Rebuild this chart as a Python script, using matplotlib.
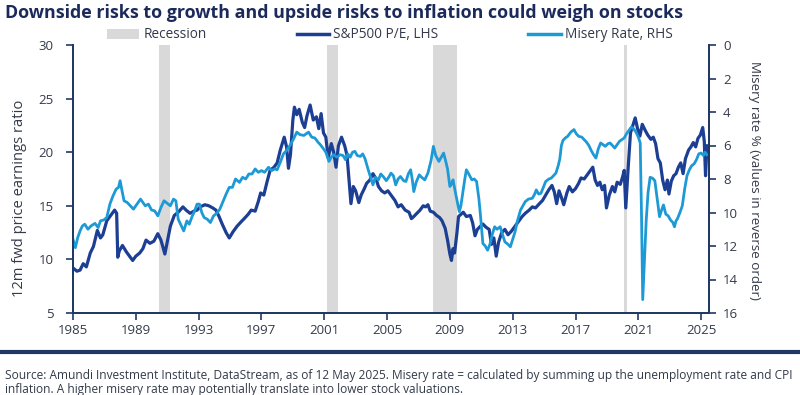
import matplotlib
matplotlib.use("Agg")
import matplotlib.pyplot as plt
from matplotlib.patches import Patch
from matplotlib.lines import Line2D

# readings: (decimal year, value)
pe_points = [
    (1985.0, 9.2), (1985.25, 8.9), (1985.45, 9.0), (1985.65, 9.6), (1985.85, 9.3),
    (1986.1, 10.6), (1986.3, 11.2), (1986.55, 12.7), (1986.75, 12.0), (1986.9, 12.3),
    (1987.15, 13.6), (1987.4, 14.1), (1987.65, 14.6), (1987.78, 14.3), (1987.85, 10.2),
    (1987.95, 10.8), (1988.15, 11.3), (1988.4, 10.7), (1988.6, 10.3), (1988.8, 9.9),
    (1989.0, 10.3), (1989.25, 10.6), (1989.45, 11.0), (1989.65, 11.8), (1989.9, 11.5),
    (1990.15, 11.7), (1990.4, 12.4), (1990.6, 11.8), (1990.85, 10.5), (1991.0, 11.6),
    (1991.2, 13.1), (1991.45, 14.1), (1991.7, 14.4), (1992.0, 14.9), (1992.2, 14.6),
    (1992.45, 14.3), (1992.7, 14.5), (1992.9, 14.6), (1993.1, 14.9), (1993.4, 15.1),
    (1993.65, 15.0), (1993.9, 14.8), (1994.1, 14.6), (1994.3, 14.0), (1994.5, 13.3),
    (1994.75, 12.5), (1994.95, 12.0), (1995.2, 12.6), (1995.45, 13.1), (1995.7, 13.5),
    (1995.9, 13.8), (1996.15, 14.2), (1996.35, 14.6), (1996.6, 14.5), (1996.8, 15.4),
    (1996.95, 16.2), (1997.15, 16.0), (1997.35, 17.2), (1997.55, 18.3), (1997.8, 18.6),
    (1998.0, 19.0), (1998.2, 20.2), (1998.45, 21.4), (1998.6, 20.5), (1998.72, 18.5),
    (1998.85, 19.8), (1999.0, 23.0), (1999.1, 24.2), (1999.25, 23.5), (1999.4, 24.0),
    (1999.6, 22.8), (1999.75, 22.3), (1999.9, 23.4), (2000.1, 24.4), (2000.3, 23.0),
    (2000.5, 23.3), (2000.65, 22.2), (2000.8, 23.6), (2000.95, 21.8), (2001.1, 21.4),
    (2001.25, 19.5), (2001.45, 20.8), (2001.6, 20.0), (2001.75, 18.6), (2001.9, 20.6),
    (2002.1, 21.4), (2002.3, 20.6), (2002.45, 19.7), (2002.6, 17.0), (2002.7, 15.2),
    (2002.85, 16.8), (2003.0, 16.4), (2003.2, 15.3), (2003.35, 16.0), (2003.55, 16.6),
    (2003.7, 17.1), (2003.9, 17.4), (2004.1, 18.0), (2004.3, 17.5), (2004.45, 16.8),
    (2004.65, 16.4), (2004.85, 16.2), (2005.05, 16.4), (2005.3, 15.9), (2005.5, 15.5),
    (2005.7, 14.9), (2005.9, 15.1), (2006.15, 14.6), (2006.4, 14.4), (2006.55, 13.8),
    (2006.7, 14.0), (2006.9, 14.3), (2007.1, 14.6), (2007.3, 15.0), (2007.45, 14.9),
    (2007.6, 15.1), (2007.75, 14.5), (2007.95, 14.4), (2008.15, 14.1), (2008.35, 13.9),
    (2008.5, 13.6), (2008.7, 12.9), (2008.85, 11.8), (2009.0, 10.5), (2009.1, 9.9),
    (2009.2, 11.0), (2009.3, 10.6), (2009.45, 12.5), (2009.55, 14.0), (2009.7, 14.2),
    (2009.85, 14.4), (2010.05, 14.0), (2010.3, 14.1), (2010.45, 13.4), (2010.6, 12.2),
    (2010.75, 12.8), (2010.95, 13.1), (2011.1, 13.3), (2011.3, 13.0), (2011.5, 12.8),
    (2011.65, 11.4), (2011.8, 12.0), (2011.95, 10.3), (2012.1, 11.6), (2012.3, 12.5),
    (2012.5, 12.8), (2012.7, 12.3), (2012.9, 12.6), (2013.1, 13.0), (2013.35, 13.5),
    (2013.6, 14.0), (2013.8, 14.3), (2014.05, 14.6), (2014.25, 14.9), (2014.45, 14.8),
    (2014.7, 15.2), (2014.9, 15.5), (2015.1, 16.0), (2015.3, 16.5), (2015.5, 16.9),
    (2015.65, 16.3), (2015.8, 15.2), (2015.95, 16.4), (2016.1, 15.8), (2016.25, 15.1),
    (2016.45, 16.2), (2016.6, 16.8), (2016.8, 16.3), (2017.0, 16.6), (2017.2, 17.1),
    (2017.35, 17.6), (2017.55, 17.5), (2017.75, 17.9), (2017.95, 18.3), (2018.1, 18.6),
    (2018.25, 17.4), (2018.4, 16.9), (2018.55, 17.2), (2018.7, 16.5), (2018.85, 16.9),
    (2018.97, 14.8), (2019.15, 16.0), (2019.35, 16.8), (2019.5, 16.3), (2019.65, 17.2),
    (2019.85, 17.0), (2020.0, 17.7), (2020.1, 18.3), (2020.2, 14.8), (2020.35, 18.5),
    (2020.5, 21.8), (2020.65, 22.5), (2020.8, 23.2), (2020.95, 22.2), (2021.1, 21.5),
    (2021.25, 22.6), (2021.45, 22.0), (2021.6, 21.6), (2021.8, 21.2), (2021.95, 21.4),
    (2022.1, 20.8), (2022.25, 19.4), (2022.4, 19.0), (2022.55, 17.4), (2022.7, 16.5),
    (2022.85, 17.4), (2022.95, 16.1), (2023.1, 17.3), (2023.25, 17.8), (2023.4, 18.0),
    (2023.55, 18.6), (2023.7, 19.0), (2023.85, 18.0), (2024.0, 19.4), (2024.2, 20.2),
    (2024.35, 20.5), (2024.5, 20.9), (2024.65, 20.5), (2024.8, 21.3), (2024.95, 21.6),
    (2025.1, 22.3), (2025.2, 21.0), (2025.28, 17.8), (2025.37, 20.6),
]

misery_points = [
    (1985.0, 11.6), (1985.15, 12.1), (1985.3, 11.5), (1985.45, 11.1), (1985.6, 10.8),
    (1985.75, 10.7), (1985.95, 11.0), (1986.15, 10.8), (1986.4, 10.65), (1986.6, 10.9),
    (1986.75, 10.5), (1986.95, 10.45), (1987.15, 10.3), (1987.35, 9.5), (1987.55, 9.0),
    (1987.75, 8.6), (1987.9, 8.5), (1988.0, 8.1), (1988.1, 8.6), (1988.25, 9.3),
    (1988.45, 9.4), (1988.65, 9.6), (1988.85, 9.8), (1989.0, 9.6), (1989.3, 9.2),
    (1989.45, 9.4), (1989.6, 9.6), (1989.8, 9.5), (1990.0, 9.85), (1990.2, 9.9),
    (1990.4, 10.2), (1990.6, 9.7), (1990.8, 9.3), (1991.0, 9.45), (1991.2, 9.6),
    (1991.4, 9.2), (1991.55, 9.3), (1991.7, 10.4), (1991.9, 10.8), (1992.05, 11.1),
    (1992.25, 10.5), (1992.4, 10.7), (1992.6, 10.2), (1992.75, 9.9), (1992.9, 9.5),
    (1993.05, 9.5), (1993.2, 10.0), (1993.35, 10.3), (1993.55, 10.4), (1993.75, 10.6),
    (1993.95, 10.2), (1994.15, 10.05), (1994.35, 9.8), (1994.55, 9.35), (1994.75, 8.9),
    (1994.95, 8.5), (1995.15, 8.5), (1995.35, 8.0), (1995.6, 8.2), (1995.8, 7.9),
    (1996.0, 8.0), (1996.2, 7.7), (1996.4, 7.7), (1996.6, 7.4), (1996.8, 7.6),
    (1997.0, 7.5), (1997.2, 7.6), (1997.45, 7.3), (1997.65, 7.5), (1997.85, 7.4),
    (1998.0, 7.45), (1998.2, 7.0), (1998.4, 6.5), (1998.6, 6.3), (1998.85, 5.95),
    (1999.05, 5.6), (1999.25, 5.2), (1999.45, 5.35), (1999.7, 5.4), (1999.85, 5.3),
    (2000.0, 5.2), (2000.2, 5.5), (2000.4, 5.55), (2000.6, 5.8), (2000.75, 5.95),
    (2000.95, 6.2), (2001.1, 6.4), (2001.3, 6.95), (2001.45, 6.7), (2001.6, 6.55),
    (2001.8, 6.7), (2002.0, 6.55), (2002.2, 6.6), (2002.35, 6.85), (2002.5, 6.5),
    (2002.65, 6.7), (2002.8, 6.4), (2002.95, 6.35), (2003.1, 6.6), (2003.3, 6.65),
    (2003.45, 6.5), (2003.6, 6.8), (2003.8, 7.45), (2003.95, 7.9), (2004.1, 8.35),
    (2004.25, 7.9), (2004.45, 8.05), (2004.6, 7.7), (2004.75, 7.85), (2004.95, 8.1),
    (2005.1, 7.9), (2005.25, 7.65), (2005.4, 7.8), (2005.55, 8.35), (2005.7, 8.0),
    (2005.85, 7.85), (2006.05, 8.1), (2006.2, 8.15), (2006.35, 7.7), (2006.5, 7.45),
    (2006.6, 8.0), (2006.7, 8.75), (2006.85, 8.2), (2007.05, 7.75), (2007.2, 7.9),
    (2007.4, 8.05), (2007.6, 7.65), (2007.8, 6.9), (2007.95, 6.05), (2008.1, 6.6),
    (2008.3, 6.95), (2008.45, 6.7), (2008.6, 6.45), (2008.75, 7.0), (2008.85, 7.4),
    (2009.0, 8.45), (2009.1, 8.3), (2009.2, 8.05), (2009.35, 8.8), (2009.45, 9.25),
    (2009.6, 9.95), (2009.7, 9.6), (2009.85, 8.65), (2009.95, 8.0), (2010.05, 7.45),
    (2010.2, 7.7), (2010.4, 8.05), (2010.55, 8.0), (2010.7, 8.15), (2010.85, 9.2),
    (2010.95, 10.2), (2011.1, 11.85), (2011.25, 12.0), (2011.4, 12.25), (2011.55, 11.9),
    (2011.7, 11.3), (2011.85, 10.85), (2012.0, 11.0), (2012.2, 10.85), (2012.35, 11.3),
    (2012.5, 11.75), (2012.7, 11.9), (2012.85, 12.05), (2013.0, 11.6), (2013.15, 11.15),
    (2013.3, 10.5), (2013.5, 9.85), (2013.65, 9.6), (2013.8, 9.35), (2014.0, 9.2),
    (2014.25, 9.15), (2014.4, 8.9), (2014.5, 8.65), (2014.65, 8.9), (2014.8, 8.85),
    (2014.95, 8.5), (2015.1, 8.15), (2015.3, 8.0), (2015.45, 7.95), (2015.6, 7.8),
    (2015.75, 7.65), (2015.9, 7.2), (2016.0, 6.8), (2016.1, 6.0), (2016.2, 5.7),
    (2016.35, 5.55), (2016.5, 5.45), (2016.7, 5.2), (2016.9, 5.05), (2017.05, 5.3),
    (2017.2, 5.45), (2017.4, 5.5), (2017.55, 5.65), (2017.7, 5.8), (2017.85, 6.0),
    (2018.0, 6.3), (2018.15, 6.55), (2018.3, 6.75), (2018.45, 6.2), (2018.6, 5.85),
    (2018.75, 5.95), (2018.9, 6.05), (2019.05, 5.9), (2019.2, 5.85), (2019.35, 6.0),
    (2019.5, 6.15), (2019.65, 5.95), (2019.8, 5.75), (2019.95, 5.65), (2020.1, 5.55),
    (2020.25, 5.3), (2020.4, 5.1), (2020.55, 4.9), (2020.7, 5.0), (2020.85, 5.2),
    (2021.0, 5.5), (2021.12, 5.85), (2021.2, 10.0), (2021.28, 15.2), (2021.38, 13.0),
    (2021.5, 10.5), (2021.62, 8.8), (2021.75, 7.9), (2021.9, 7.95), (2022.05, 8.1),
    (2022.2, 9.2), (2022.35, 10.25), (2022.5, 9.8), (2022.6, 9.55), (2022.75, 10.1),
    (2022.9, 10.2), (2023.05, 10.45), (2023.2, 10.6), (2023.3, 10.85), (2023.4, 10.5),
    (2023.5, 10.35), (2023.65, 10.0), (2023.8, 9.6), (2023.95, 8.6), (2024.1, 7.8),
    (2024.25, 7.45), (2024.4, 7.2), (2024.55, 7.1), (2024.7, 6.85), (2024.85, 6.5),
    (2025.0, 6.45), (2025.15, 6.6), (2025.25, 6.4), (2025.37, 6.55),
]

recessions = [(1990.5, 1991.2), (2001.15, 2001.85), (2007.9, 2009.45), (2020.1, 2020.3)]
year_ticks = list(range(1985, 2026, 4))

navy = "#1c3f94"
sky = "#1d9ad6"
axis_col = "#1f3864"
text_col = "#333a4a"
grey = "#d9d9d9"

plt.rcParams['font.family'] = ['Open Sans', 'DejaVu Sans']

fig = plt.figure(figsize=(8, 3.95), dpi=100)
ax = fig.add_axes([73/800, 1-313/395, 636/800, 268/395])
ax2 = ax.twinx()

for start, end in recessions:
    ax.axvspan(start, end, color=grey, lw=0, zorder=0)

ax.plot([p[0] for p in pe_points], [p[1] for p in pe_points], color=navy, lw=2.3, zorder=2)
ax2.plot([p[0] for p in misery_points], [p[1] for p in misery_points], color=sky, lw=2.0)

ax.set_xlim(1985, 2025.5)
ax.set_ylim(5, 30)
ax2.set_ylim(16, 0)
ax.set_xticks(year_ticks)
ax.set_yticks(range(5, 31, 5))
ax2.set_yticks(range(0, 17, 2))

for a in (ax, ax2):
    a.spines['top'].set_visible(False)
    for s in ('left', 'right', 'bottom'):
        a.spines[s].set_color(axis_col)
        a.spines[s].set_linewidth(1.3)
ax.tick_params(axis='y', direction='out', length=5, color=axis_col, width=1.2, pad=9,
               labelsize=9.5, labelcolor=text_col)
ax.tick_params(axis='x', direction='out', length=5, color=axis_col, width=1.2, pad=3,
               labelsize=9.5, labelcolor=text_col)
ax2.tick_params(axis='y', direction='out', length=5, color=axis_col, width=1.2, pad=5,
                labelsize=9.5, labelcolor=text_col)

fig.text(20/800, 1-198/395, "12m fwd price earnings ratio", rotation=90, ha='center', va='center',
         fontsize=10.6, color=text_col)
fig.text(755/800, 1-180/395, "Misery rate % (values in reverse order)", rotation=-90, ha='center',
         va='center', fontsize=9.6, color=text_col)

fig.text(5/800, 1-13/395, "Downside risks to growth and upside risks to inflation could weigh on stocks",
         fontsize=12.9, fontweight='bold', color="#1b2a5a", va='center')

handles = [Patch(facecolor=grey, edgecolor='none'),
           Line2D([], [], color=navy, lw=2.5),
           Line2D([], [], color=sky, lw=2.5)]
fig.legend(handles, ["Recession", "S&P500 P/E, LHS", "Misery Rate, RHS"], loc='center left',
           bbox_to_anchor=(100/800, 1-35/395), ncol=3, frameon=False, fontsize=9.8,
           handlelength=2.4, handletextpad=0.3, columnspacing=6.6, borderpad=0, labelcolor=text_col)

fig.add_artist(Line2D([0, 1], [1-352/395, 1-352/395], transform=fig.transFigure, color=axis_col, lw=3))

fig.text(5/800, 1-375/395, "Source: Amundi Investment Institute, DataStream, as of 12 May 2025. Misery rate = calculated by summing up the unemployment rate and CPI",
         fontsize=8.55, color=text_col, va='center')
fig.text(5/800, 1-389/395, "inflation. A higher misery rate may potentially translate into lower stock valuations.",
         fontsize=8.55, color=text_col, va='center')

fig.savefig("out.png", dpi=100)
